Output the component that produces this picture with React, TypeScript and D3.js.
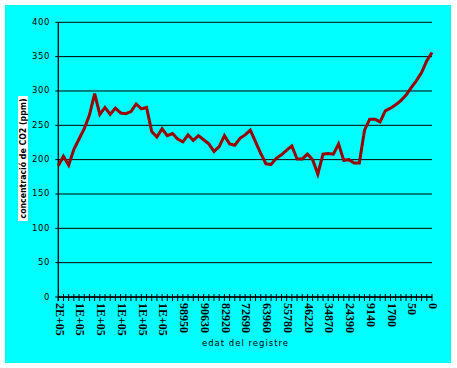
import React from 'react';
import * as d3 from 'd3';

// CO2 concentration (ppm), one value per record, oldest first
const co2 = [
  191, 205, 192, 215, 230, 245, 265, 296, 266, 276,
  266, 275, 268, 267, 270, 281, 274, 276, 241, 233,
  245, 235, 238, 230, 226, 236, 228, 235, 229, 223,
  212, 219, 235, 223, 221, 231, 236, 243, 226, 209,
  194, 193, 202, 207, 214, 220, 201, 201, 208, 200,
  179, 208, 209, 208, 223, 199, 200, 195, 195, 243,
  259, 259, 255, 271, 275, 280, 286, 294, 305, 315,
  327, 344, 356,
];

// labels shown on every 4th record
const ageLabels = [
  '2E+05', '1E+05', '1E+05', '1E+05', '1E+05', '1E+05', '98950', '90630',
  '82920', '72690', '63960', '55780', '46220', '34870', '24390', '9140',
  '1700', '50', '0',
];
const labelEvery = 4;

const yTicks = [0, 50, 100, 150, 200, 250, 300, 350, 400];

const W = 457;
const H = 368;

export default function App() {
  const x = d3.scalePoint<number>()
    .domain(co2.map((_, i) => i))
    .range([58.3, 432]);

  const y = d3.scaleLinear().domain([0, 400]).range([297, 22.3]);

  const line = d3.line<number>()
    .x((_, i) => x(i) as number)
    .y(d => y(d));

  const x0 = x(0) as number;
  const x1 = x(co2.length - 1) as number;

  return (
    <svg width={W} height={H} style={{ position: 'absolute', left: 0, top: 0 }}>
      <rect x={0} y={0} width={W} height={H} fill="#fff" />
      <rect x={5} y={5} width={446} height={358} fill="#00ffff" />

      {/* gridlines + y labels */}
      {yTicks.map(t => (
        <g key={t}>
          <line x1={x0 - 3} x2={x1} y1={y(t)} y2={y(t)} stroke="#000" strokeWidth={1} />
          <text
            x={50}
            y={y(t)}
            textAnchor="end"
            dominantBaseline="middle"
            fontFamily="DejaVu Sans"
            fontSize={8.5}
            letterSpacing={0.6}
            fill="#000"
          >
            {t}
          </text>
        </g>
      ))}

      {/* y axis */}
      <line x1={x0} x2={x0} y1={y(400)} y2={y(0) + 4} stroke="#000" strokeWidth={1.3} />

      {/* x axis ticks */}
      {co2.map((_, i) => (
        <line
          key={i}
          x1={x(i) as number}
          x2={x(i) as number}
          y1={y(0) - 3}
          y2={y(0) + 4}
          stroke="#000"
          strokeWidth={1}
        />
      ))}
      <line x1={x0} x2={x1} y1={y(0)} y2={y(0)} stroke="#000" strokeWidth={1.3} />

      {/* x tick labels, rotated */}
      {ageLabels.map((lab, k) => {
        const px = x(k * labelEvery) as number;
        return (
          <text
            key={k}
            transform={`translate(${px},303) rotate(90)`}
            textAnchor="start"
            dominantBaseline="middle"
            fontFamily="Liberation Serif"
            fontWeight="bold"
            fontSize={12}
            fill="#000"
          >
            {lab}
          </text>
        );
      })}

      {/* data line */}
      <path d={line(co2) ?? ''} fill="none" stroke="#990000" strokeWidth={3} strokeLinejoin="miter" />

      {/* y axis title */}
      <rect x={18} y={96} width={10} height={125} fill="#fff" />
      <text
        transform="translate(23.5,158.5) rotate(-90)"
        textAnchor="middle"
        dominantBaseline="middle"
        fontFamily="DejaVu Sans"
        fontWeight="bold"
        fontSize={8}
        textLength={120}
        lengthAdjust="spacingAndGlyphs"
        fill="#000"
      >
        concentració de CO2 (ppm)
      </text>

      {/* x axis title */}
      <text
        x={245.5}
        y={343}
        textAnchor="middle"
        dominantBaseline="middle"
        fontFamily="DejaVu Sans"
        fontSize={8.5}
        letterSpacing={1}
        fill="#000"
      >
        edat del registre
      </text>
    </svg>
  );
}
